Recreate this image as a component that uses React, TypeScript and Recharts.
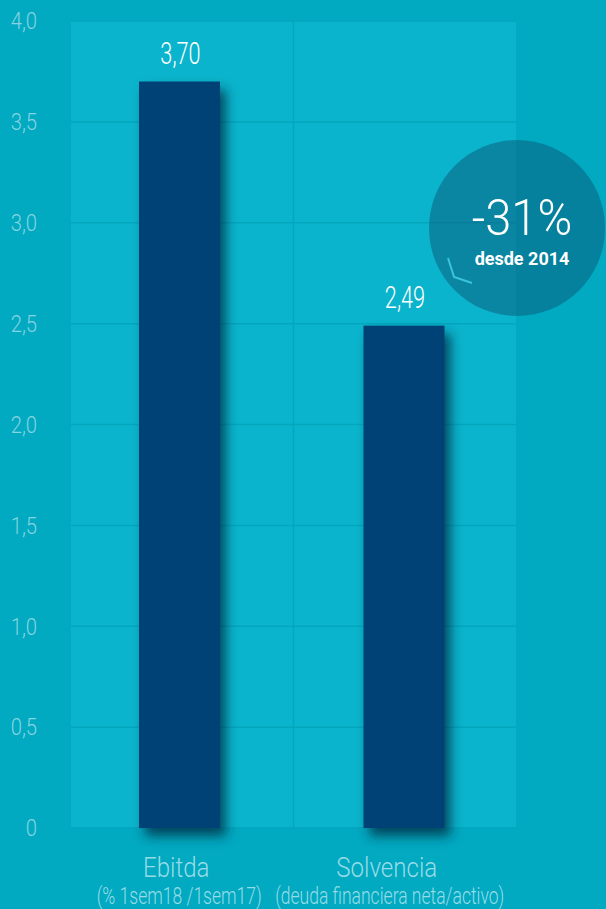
import { BarChart, Bar, XAxis, YAxis, CartesianGrid, LabelList } from "recharts";

const categories = ["Ebitda", "Solvencia"];
const subtitles = ["(% 1sem18 /1sem17)", "(deuda financiera neta/activo)"];
const values = [3.7, 2.49];
const yTicks = [0, 0.5, 1, 1.5, 2, 2.5, 3, 3.5, 4];
const badgeValue = "-31%";
const badgeText = "desde 2014";

const data = categories.map((name, i) => ({ name, sub: subtitles[i], value: values[i] }));

const FONT = "Roboto, 'Open Sans', sans-serif";
const comma = (v: number, d: number) => v.toFixed(d).replace(".", ",");

// label centres in the original sit a bit left of the bars
const titleShift = [-3, -17];
const subShift = [0, -14];

function YTick({ y, payload }: any) {
  const label = payload.value === 0 ? "0" : comma(payload.value, 1);
  return (
    <g transform={`translate(37,${y}) scale(0.88,1)`}>
      <text textAnchor="end" dy="0.36em" fontSize={23} fontWeight={300} fill="#86d4e0" fontFamily={FONT}>
        {label}
      </text>
    </g>
  );
}

function XTick({ x, payload, index }: any) {
  return (
    <g>
      <g transform={`translate(${x + titleShift[index]},877) scale(0.86,1)`}>
        <text textAnchor="middle" fontSize={28} fontWeight={300} fill="#98dce7" fontFamily={FONT}>
          {payload.value}
        </text>
      </g>
      <g transform={`translate(${x + subShift[index]},904) scale(0.73,1)`}>
        <text textAnchor="middle" fontSize={24} fontWeight={300} fill="#98dce7" fontFamily={FONT}>
          {subtitles[index]}
        </text>
      </g>
    </g>
  );
}

function ValueLabel({ x, y, width, value }: any) {
  return (
    <g transform={`translate(${x + width / 2 + 1},${y - 18}) scale(0.7,1)`}>
      <text textAnchor="middle" fontSize={31} fontWeight={300} fill="#ffffff" fontFamily={FONT}>
        {comma(value, 2)}
      </text>
    </g>
  );
}

function ShadowBar({ x, y, width, height }: any) {
  return <rect x={x} y={y} width={width} height={height} fill="#004274" filter="url(#barShadow)" />;
}

export default function App() {
  return (
    <div style={{ position: "absolute", left: 0, top: 0, width: 606, height: 909, background: "#01a9c1", overflow: "hidden" }}>
      <BarChart width={606} height={909} data={data} margin={{ top: 21, right: 90, left: 0, bottom: 0 }}>
        <defs>
          <filter id="barShadow" x="-30%" y="-10%" width="170%" height="130%">
            <feDropShadow dx={6} dy={8} stdDeviation={6} floodColor="#002c3c" floodOpacity={0.75} />
          </filter>
        </defs>
        <CartesianGrid
          fill="#0ab4cc"
          stroke="#03a6bd"
          strokeWidth={1.5}
          verticalCoordinatesGenerator={({ offset }: any) => [offset.left + offset.width / 2]}
        />
        <XAxis dataKey="name" height={81} padding={{ left: -4, right: 0 }} axisLine={false} tickLine={false} tick={<XTick />} interval={0} />
        <YAxis width={71} domain={[0, 4]} ticks={yTicks} axisLine={false} tickLine={false} tick={<YTick />} interval={0} />
        <Bar dataKey="value" barSize={81} shape={<ShadowBar />} isAnimationActive={false}>
          <LabelList dataKey="value" content={<ValueLabel />} />
        </Bar>
      </BarChart>
      <svg width={606} height={909} style={{ position: "absolute", left: 0, top: 0, pointerEvents: "none" }}>
        <circle cx={517} cy={228} r={88} fill="rgb(10,78,113)" fillOpacity={0.45} />
        <polyline points="448,258 454,277 472,283" fill="none" stroke="#3cc4d8" strokeWidth={2} />
        <g transform="translate(522,235) scale(0.94,1)">
          <text textAnchor="middle" fontSize={50} fontWeight={300} fill="#ffffff" fontFamily={FONT}>
            {badgeValue}
          </text>
        </g>
        <text x={522} y={265} textAnchor="middle" fontSize={18} fontWeight={700} fill="#ffffff" fontFamily={FONT}>
          {badgeText}
        </text>
      </svg>
    </div>
  );
}
